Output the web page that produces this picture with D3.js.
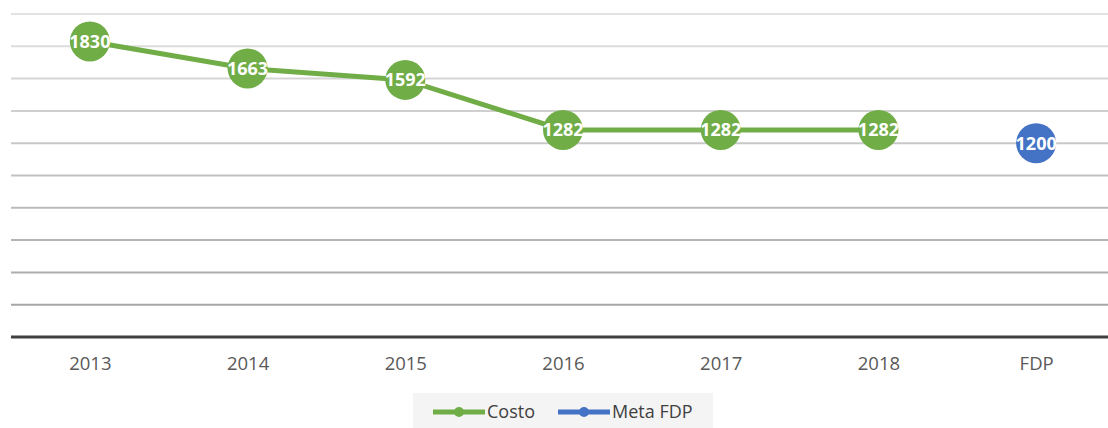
<!DOCTYPE html>
<html>
<head>
<meta charset="utf-8">
<script src="https://cdn.jsdelivr.net/npm/d3@7"></script>
<style>
  body { margin: 0; background: #fff; }
  text { font-family: "Open Sans", "Noto Sans", sans-serif; }
</style>
</head>
<body>
<div id="chart"></div>
<script>
// data
var years = ["2013", "2014", "2015", "2016", "2017", "2018", "FDP"];
var costo = [1830, 1663, 1592, 1282, 1282, 1282, null];
var metaFdp = [null, null, null, null, null, null, 1200];
var gridValues = [200, 400, 600, 800, 1000, 1200, 1400, 1600, 1800, 2000];

var width = 1108, height = 428;
var green = "#70ad47", blue = "#4472c4";

var svg = d3.select("#chart").append("svg")
    .attr("width", width)
    .attr("height", height);

var x = d3.scalePoint()
    .domain(years)
    .range([11, 1115])
    .padding(0.5);

var y = d3.scaleLinear()
    .domain([0, 2000])
    .range([337, 14]);

// gridlines get darker towards the bottom
var gridColor = d3.scaleLinear()
    .domain([200, 2000])
    .range(["#a6a6a6", "#e3e3e3"]);

svg.selectAll(".grid")
    .data(gridValues)
    .enter().append("line")
    .attr("class", "grid")
    .attr("x1", 11).attr("x2", width)
    .attr("y1", function(d) { return y(d); })
    .attr("y2", function(d) { return y(d); })
    .attr("stroke", function(d) { return gridColor(d); })
    .attr("stroke-width", 2);

// x axis
var xAxis = svg.append("g")
    .attr("transform", "translate(0," + y(0) + ")")
    .call(d3.axisBottom(x).tickSize(0).tickPadding(20));
xAxis.select(".domain").remove();
xAxis.append("line")
    .attr("x1", 11).attr("x2", width)
    .attr("stroke", "#404040")
    .attr("stroke-width", 3);
xAxis.selectAll("text")
    .attr("font-size", "18.5px")
    .attr("fill", "#595959")
    .attr("font-family", "'Open Sans', sans-serif");

function drawSeries(values, color) {
    var pts = years.map(function(d, i) { return {year: d, v: values[i]}; })
        .filter(function(d) { return d.v !== null; });

    var line = d3.line()
        .x(function(d) { return x(d.year); })
        .y(function(d) { return y(d.v); });

    svg.append("path")
        .datum(pts)
        .attr("fill", "none")
        .attr("stroke", color)
        .attr("stroke-width", 5)
        .attr("d", line);

    var g = svg.selectAll(null)
        .data(pts)
        .enter().append("g")
        .attr("transform", function(d) { return "translate(" + x(d.year) + "," + y(d.v) + ")"; });

    g.append("circle")
        .attr("r", 20)
        .attr("fill", color);

    g.append("text")
        .attr("text-anchor", "middle")
        .attr("dy", "0.36em")
        .attr("fill", "#fff")
        .attr("font-weight", "bold")
        .attr("font-size", "18px")
        .text(function(d) { return d.v; });
}

drawSeries(costo, green);
drawSeries(metaFdp, blue);

// legend
var legend = svg.append("g");
legend.append("rect")
    .attr("x", 413).attr("y", 393)
    .attr("width", 300).attr("height", 35)
    .attr("fill", "#f4f4f4");

var legendItems = [
    {name: "Costo", color: green, x: 433},
    {name: "Meta FDP", color: blue, x: 558}
];

var li = legend.selectAll(".li")
    .data(legendItems)
    .enter().append("g")
    .attr("transform", function(d) { return "translate(" + d.x + ",412)"; });

li.append("line")
    .attr("x1", 0).attr("x2", 52)
    .attr("stroke", function(d) { return d.color; })
    .attr("stroke-width", 5);
li.append("circle")
    .attr("cx", 26).attr("r", 5)
    .attr("fill", function(d) { return d.color; });
li.append("text")
    .attr("x", 54)
    .attr("dy", "0.36em")
    .attr("font-size", "18px")
    .attr("fill", "#404040")
    .text(function(d) { return d.name; });
</script>
</body>
</html>
